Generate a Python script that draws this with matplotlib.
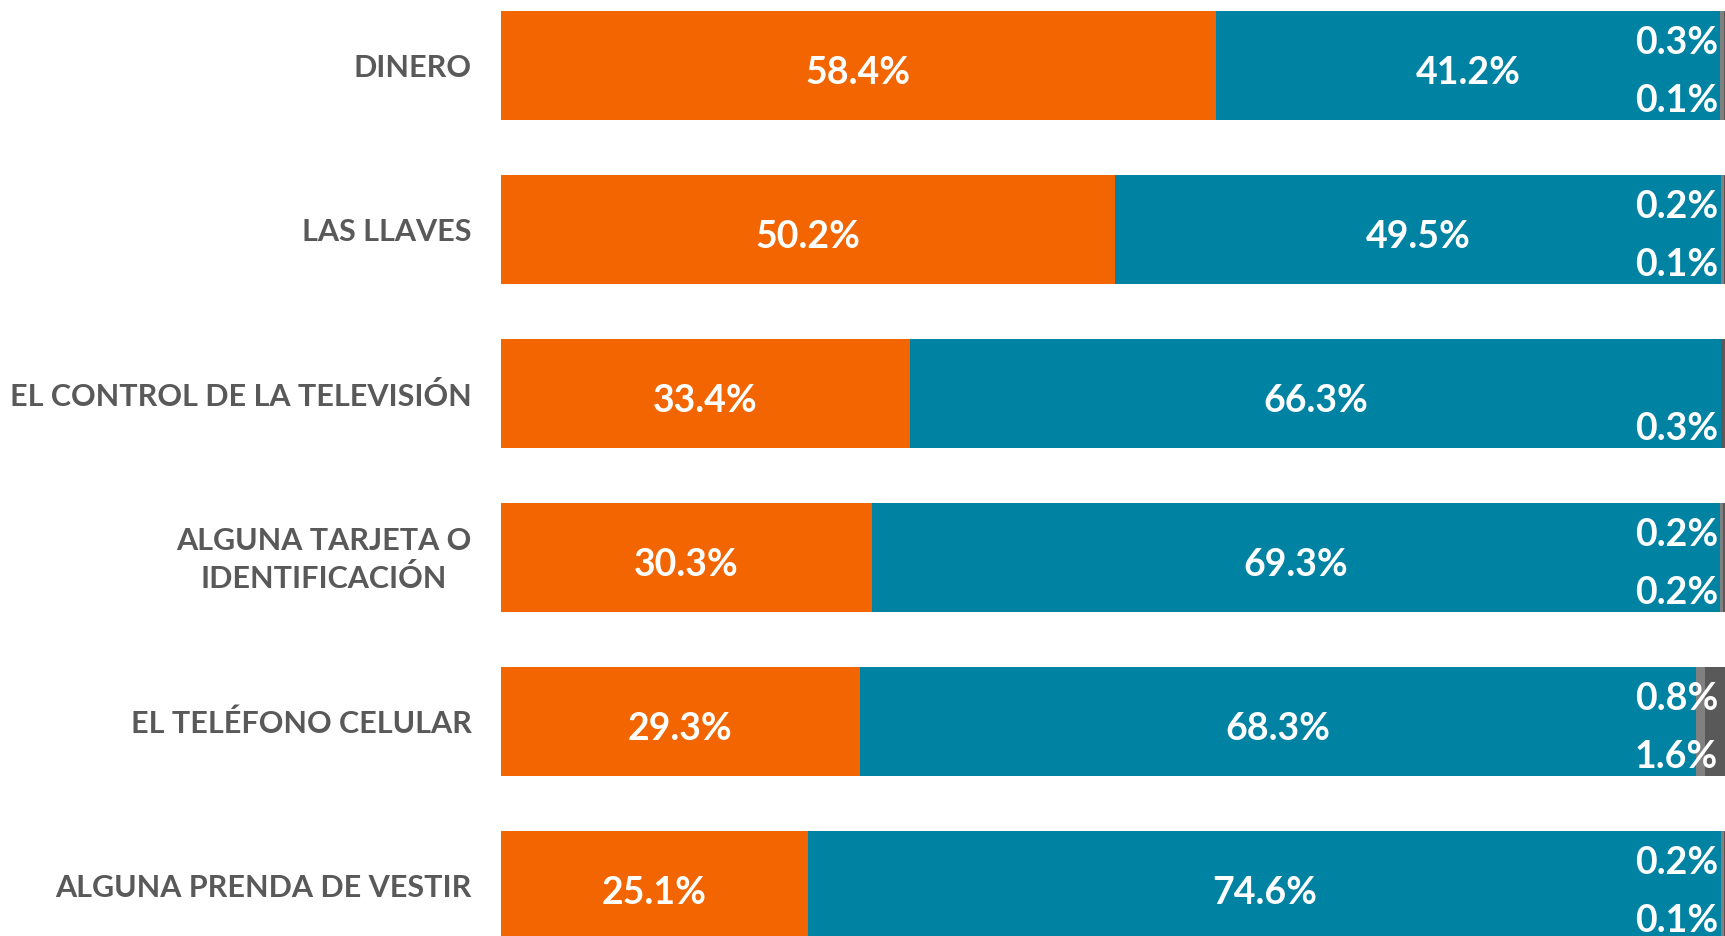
import matplotlib.pyplot as plt

categorias = ['DINERO', 'LAS LLAVES', 'EL CONTROL DE LA TELEVISIÓN',
              'ALGUNA TARJETA O\nIDENTIFICACIÓN', 'EL TELÉFONO CELULAR',
              'ALGUNA PRENDA DE VESTIR']
serie_1 = [58.4, 50.2, 33.4, 30.3, 29.3, 25.1]
serie_2 = [41.2, 49.5, 66.3, 69.3, 68.3, 74.6]
serie_3 = [0.3, 0.2, 0.0, 0.2, 0.8, 0.2]
serie_4 = [0.1, 0.1, 0.3, 0.2, 1.6, 0.1]

colores = ['#F26500', '#0083A3', '#808080', '#595959']

plt.rcParams['font.family'] = ['Lato', 'DejaVu Sans']

fig = plt.figure(figsize=(17.25, 9.37), dpi=100)
ax = fig.add_axes([501 / 1725, 0, 1 - 501 / 1725, 1])

y = list(range(len(categorias)))
alto = 0.665
izq = [0] * len(y)
for valores, color in zip([serie_1, serie_2, serie_3, serie_4], colores):
    ax.barh(y, valores, left=izq, height=alto, color=color, edgecolor='none')
    izq = [a + b for a, b in zip(izq, valores)]

estilo = dict(color='white', fontsize=27, fontweight='bold', va='baseline')
for i in y:
    ax.text(serie_1[i] / 2, i + 0.107, f'{serie_1[i]:.1f}%', ha='center', **estilo)
    ax.text(serie_1[i] + serie_2[i] / 2, i + 0.107, f'{serie_2[i]:.1f}%', ha='center', **estilo)
    if serie_3[i] > 0:
        ax.text(99.45, i - 0.076, f'{serie_3[i]:.1f}%', ha='right', **estilo)
    if serie_4[i] > 0:
        ax.text(99.45, i + 0.28, f'{serie_4[i]:.1f}%', ha='right', **estilo)
    ax.text(-2.4, i + 0.01, categorias[i], ha='right', va='center', multialignment='center',
            color='#595959', fontsize=22, fontweight='bold', linespacing=1.35)

ax.set_xlim(0, 100)
ax.set_ylim(5.308, -0.405)
ax.axis('off')

fig.savefig('out.png', dpi=100)
